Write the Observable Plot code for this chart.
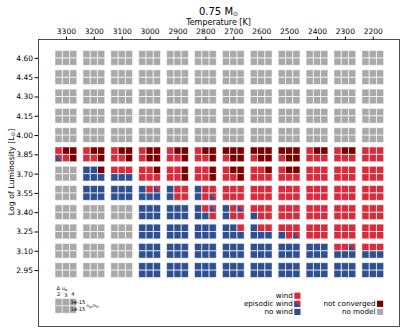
<!DOCTYPE html>
<html><head><meta charset="utf-8">
<script src="https://cdn.jsdelivr.net/npm/d3@7"></script>
<script src="https://cdn.jsdelivr.net/npm/@observablehq/plot@0.6"></script>
<style>
html,body{margin:0;padding:0;background:#fff;}
#chart svg{display:block;}
</style></head><body><div id="chart"></div>
<script>
// Temperature columns and luminosity rows
const temperatures = [3300, 3200, 3100, 3000, 2900, 2800, 2700, 2600, 2500, 2400, 2300, 2200];
const luminosities = ["4.60", "4.45", "4.30", "4.15", "4.00", "3.85", "3.70", "3.55", "3.40", "3.25", "3.10", "2.95"];
const deltaU = [2, 3, 4];
const seedAbundance = ["3e-15", "1e-15"];
// Codes per cell: top row = 3e-15 (Δu 2,3,4) / bottom row = 1e-15 (Δu 2,3,4)
// W wind, E episodic wind, N no wind, C not converged, M no model
const L460 = ["MMM/MMM","MMM/MMM","MMM/MMM","MMM/MMM","MMM/MMM","MMM/MMM","MMM/MMM","MMM/MMM","MMM/MMM","MMM/MMM","MMM/MMM","MMM/MMM"];
const L445 = ["MMM/MMM","MMM/MMM","MMM/MMM","MMM/MMM","MMM/MMM","MMM/MMM","MMM/MMM","MMM/MMM","MMM/MMM","MMM/MMM","MMM/MMM","MMM/MMM"];
const L430 = ["MMM/MMM","MMM/MMM","MMM/MMM","MMM/MMM","MMM/MMM","MMM/MMM","MMM/MMM","MMM/MMM","MMM/MMM","MMM/MMM","MMM/MMM","MMM/MMM"];
const L415 = ["MMM/MMM","MMM/MMM","MMM/MMM","MMM/MMM","MMM/MMM","MMM/MMM","MMM/MMM","MMM/MMM","MMM/MMM","MMM/MMM","MMM/MMM","MMM/MMM"];
const L400 = ["MMM/MMM","MMM/MMM","MMM/MMM","MMM/MMM","MMM/MMM","MMM/MMM","MMM/MMM","MMM/MMM","MMM/MMM","MMM/MMM","MMM/MMM","MMM/MMM"];
const L385 = ["WCC/EWC","WCC/WWC","WCC/WWC","WCC/WCC","WCC/WWC","WCC/WWC","CCC/WCC","CCC/WCC","CCC/WCC","WCC/WWW","WCC/WWW","WWW/WWW"];
const L370 = ["MMM/MMM","NNC/NNN","WWW/NNN","WWC/WWW","WWC/WWC","WWC/WWC","WCC/WWC","WWC/WWW","WCC/WWW","WWW/WWW","WWW/WWW","WWW/WWW"];
const L355 = ["MMM/MMM","NNN/NNN","NNN/NNN","NWE/NNN","NWW/NWW","NWW/NWE","WWW/WWW","WWW/WWW","WWW/WWW","WWW/WWW","WWW/WWW","WWW/WWW"];
const L340 = ["MMM/MMM","MMM/MMM","MMM/MMM","NNN/NNN","NNN/NNN","NWE/NNW","NWE/NWW","WWW/NWW","WWW/WWW","WWW/WWW","WWW/WWW","WWW/WWW"];
const L325 = ["MMM/MMM","MMM/MMM","MMM/MMM","NNN/NNN","NNN/NNN","NNN/NNN","NNW/NNN","NWW/NNN","WWW/NWE","WWW/WWW","WWW/WWW","WWW/WWW"];
const L310 = ["MMM/MMM","MMM/MMM","MMM/MMM","NNN/NNN","NNN/NNN","NNN/NNN","NNN/NNN","NNN/NNN","NNN/NNN","NNN/NNN","WWE/NNN","WWW/NNN"];
const L295 = ["MMM/MMM","MMM/MMM","MMM/MMM","NNN/NNN","NNN/NNN","NNN/NNN","NNN/NNN","NNN/NNN","NNN/NNN","NNN/NNN","NNN/NNN","NNN/NNN"];
const rows = [L460, L445, L430, L415, L400, L385, L370, L355, L340, L325, L310, L295];

const statusNames = {W: "wind", E: "episodic wind", N: "no wind", C: "not converged", M: "no model"};
const RED = "#d92b3c", DARK = "#7d0000", BLUE = "#2e5090", GRAY = "#a9a9a9";

const CW = 0.26, CH = 0.381;
const cells = [];
rows.forEach((row, r) => row.forEach((code, c) => {
  const parts = code.split("/");
  parts.forEach((part, k) => part.split("").forEach((ch, j) => {
    const x1 = c - 1.5 * CW + j * CW, y1 = r - CH + k * CH;
    cells.push({id: `${r}-${c}-${k}-${j}`, status: statusNames[ch], x1, x2: x1 + CW, y1, y2: y1 + CH,
      temperature: temperatures[c], luminosity: luminosities[r], du: deltaU[j], seed: seedAbundance[k]});
  }));
}));
const tri = cells.filter(d => d.status === "episodic wind").flatMap(d => [
  {id: d.id, x: d.x1, y1: d.y2, y2: d.y1},
  {id: d.id, x: d.x2, y1: d.y2, y2: d.y2}
]);

const plot = Plot.plot({
  width: 407, height: 333,
  marginLeft: 38, marginRight: 8, marginTop: 39, marginBottom: 7,
  style: {fontFamily: "DejaVu Sans", fontSize: "7.5px", color: "#000", background: "#fff"},
  x: {type: "linear", domain: [-1.0, 11.94], axis: null},
  y: {type: "linear", domain: [-0.98, 13.9], range: [39, 326], axis: null},
  color: {domain: ["wind", "episodic wind", "no wind", "not converged", "no model"], range: [RED, RED, BLUE, DARK, GRAY]},
  marks: [
    Plot.rect(cells, {x1: "x1", x2: "x2", y1: "y1", y2: "y2", fill: "status"}),
    Plot.areaY(tri, {x: "x", y1: "y1", y2: "y2", z: "id", fill: BLUE, curve: "linear"}),
    Plot.rect(cells, {x1: "x1", x2: "x2", y1: "y1", y2: "y2", fill: "none", stroke: "white", strokeOpacity: 0.55, strokeWidth: 0.9}),
    Plot.axisX({anchor: "top", ticks: d3.range(temperatures.length), tickFormat: i => String(temperatures[i]), label: null, tickSize: 3.5, tickPadding: 2, fontSize: 7.5}),
    Plot.axisY({anchor: "left", ticks: d3.range(luminosities.length), tickFormat: i => luminosities[i], label: null, tickSize: 3.5, tickPadding: 2, fontSize: 7.5}),
    Plot.frame({stroke: "#222", strokeWidth: 0.8})
  ]
});
document.getElementById("chart").appendChild(plot);

// Titles and legend
const svg = d3.select(plot);
const g = svg.append("g").attr("font-family", "DejaVu Sans").attr("fill", "#000");
const title = g.append("text").attr("x", 218.5).attr("y", 14.5).attr("text-anchor", "middle").attr("font-size", 10);
title.append("tspan").text("0.75 M");
title.append("tspan").attr("font-size", 6).attr("dy", 1.2).text("⊙");
g.append("text").attr("x", 218.5).attr("y", 24.8).attr("text-anchor", "middle").attr("font-size", 8).text("Temperature [K]");
const yl = g.append("text").attr("transform", "translate(13.5,172) rotate(-90)").attr("text-anchor", "middle").attr("font-size", 7.8);
yl.append("tspan").text("Log of Luminosity [L");
yl.append("tspan").attr("font-size", 5.5).attr("dy", 1.5).text("⊙");
yl.append("tspan").attr("dy", -1.5).text("]");

// Δu / seed legend cell
const lx = 55, ly = 298.5, sw = 7.2, sh = 7.35;
for (let k = 0; k < 2; k++) for (let j = 0; j < 3; j++) {
  g.append("rect").attr("x", lx + j * sw).attr("y", ly + k * sh).attr("width", sw).attr("height", sh)
    .attr("fill", GRAY).attr("stroke", "white").attr("stroke-opacity", 0.55).attr("stroke-width", 0.9);
}
const du = g.append("text").attr("x", 62).attr("y", 290).attr("font-size", 5.2);
du.append("tspan").text("Δ u");
du.append("tspan").attr("font-size", 3.8).attr("dy", 1).text("p");
deltaU.forEach((d, j) => {
  g.append("text").attr("x", lx + sw * (j + 0.5)).attr("y", j === 1 ? 296.5 : 295.5).attr("text-anchor", "middle").attr("font-size", 5.2).text(d);
});
seedAbundance.forEach((s, k) => {
  g.append("text").attr("x", lx + 3 * sw + 1.3).attr("y", ly + k * sh + 5.5).attr("font-size", 5.2).text(s);
});
const ng = g.append("text").attr("x", 92.5).attr("y", 307).attr("font-size", 4.2);
ng.append("tspan").text("n");
ng.append("tspan").attr("font-size", 3).attr("dy", 0.8).text("gr");
ng.append("tspan").attr("dy", -0.8).text("/n");
ng.append("tspan").attr("font-size", 3).attr("dy", 0.8).text("H");

// status legend
function swatch(x, y, status) {
  const c = plot.scale("color").apply(status);
  g.append("rect").attr("x", x).attr("y", y).attr("width", 6.2).attr("height", 6.2).attr("fill", c);
  if (status === "episodic wind") {
    g.append("path").attr("d", `M${x},${y}L${x},${y + 6.2}L${x + 6.2},${y + 6.2}Z`).attr("fill", BLUE);
  }
}
const leg1 = ["wind", "episodic wind", "no wind"];
leg1.forEach((s, i) => {
  const y = 292.6 + i * 8.1;
  g.append("text").attr("x", 292.8).attr("y", y + 5.6).attr("text-anchor", "end").attr("font-size", 7.2).text(s);
  swatch(294.3, y, s);
});
const leg2 = ["not converged", "no model"];
leg2.forEach((s, i) => {
  const y = 300.7 + i * 8.1;
  g.append("text").attr("x", 375.5).attr("y", y + 5.6).attr("text-anchor", "end").attr("font-size", 7.2).text(s);
  swatch(377, y, s);
});
</script></body></html>
